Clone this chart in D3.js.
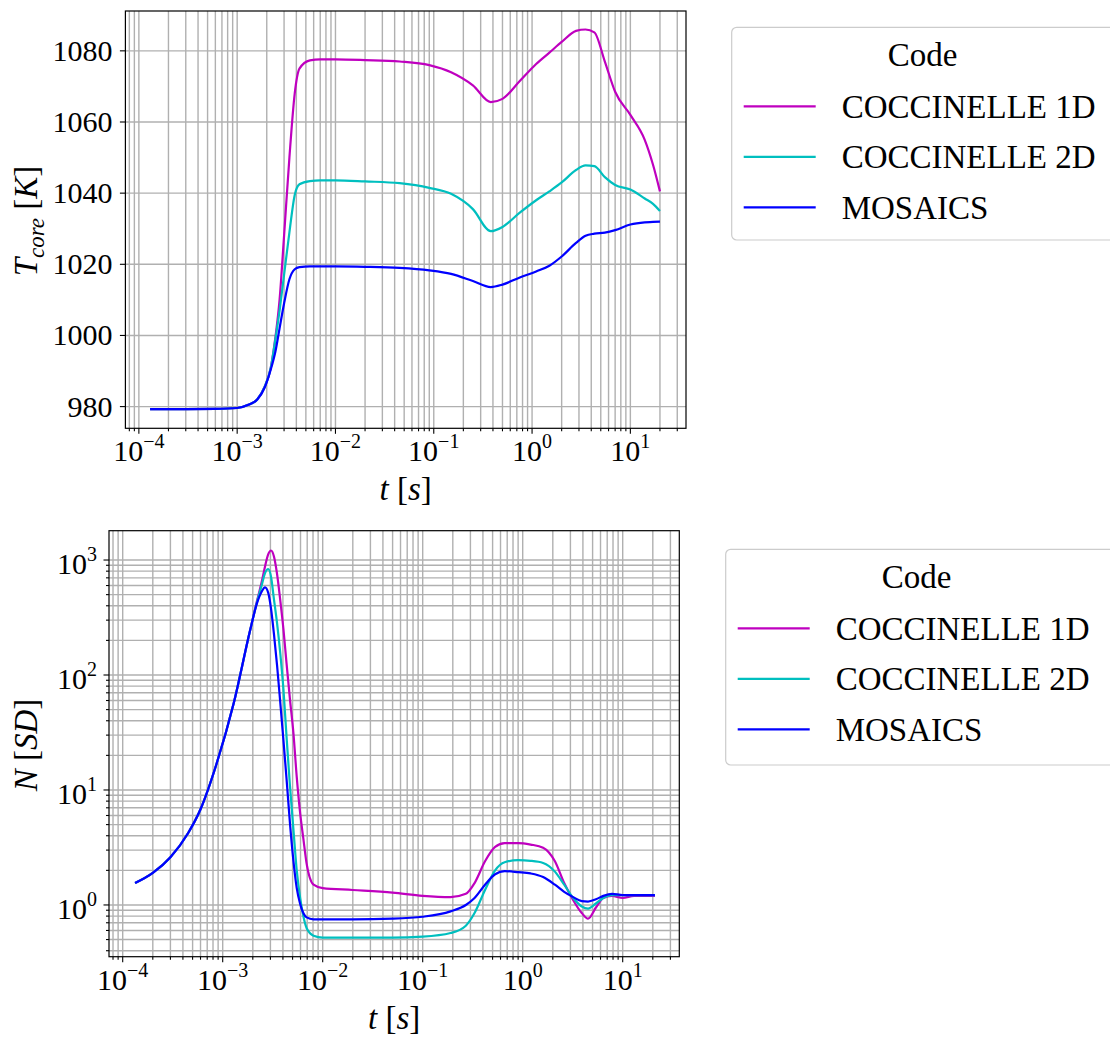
<!DOCTYPE html>
<html><head><meta charset="utf-8">
<script src="https://cdn.jsdelivr.net/npm/d3@7"></script>
<style>body{margin:0;background:#fff} svg{display:block}</style>
</head><body>
<script>
// ---------- data ----------
const seriesNames = ["COCCINELLE 1D", "COCCINELLE 2D", "MOSAICS"];
const seriesColors = ["#bf00bf", "#00bfbf", "#0000ff"];

// Top panel: core temperature [K] vs time [s]
const tempTime = [1.3e-4, 3e-4, 6e-4, 1e-3, 1.3e-3, 1.6e-3, 1.9e-3, 2.2e-3, 2.45e-3, 2.7e-3, 3.0e-3, 3.4e-3, 3.85e-3, 4.3e-3, 5.5e-3, 7e-3, 0.01, 0.02, 0.045, 0.09, 0.15, 0.25, 0.38, 0.5, 0.75, 1.1, 1.5, 2.0, 2.8, 3.5, 4.3, 5.5, 7, 10, 14, 17, 20];
const tempC1D = [979.3, 979.3, 979.35, 979.6, 980.5, 982, 985.5, 991, 999.5, 1010, 1028, 1050, 1068, 1075, 1077.3, 1077.6, 1077.6, 1077.4, 1077, 1076, 1074, 1070.3, 1065.6, 1066.5, 1071.5, 1076.3, 1079.5, 1082.5, 1085.6, 1086, 1085.2, 1077, 1068.5, 1062, 1055, 1048, 1040.5];
const tempC2D = [979.3, 979.3, 979.35, 979.6, 980.5, 982, 985.5, 991, 999, 1007, 1017, 1029, 1039.5, 1042.5, 1043.4, 1043.6, 1043.6, 1043.3, 1042.8, 1041.5, 1039.8, 1035.5, 1029.3, 1030.5, 1034.5, 1038, 1040.5, 1043, 1046.5, 1047.8, 1047.6, 1044.5, 1042.3, 1041, 1038.5, 1037, 1035];
const tempMOS = [979.3, 979.3, 979.35, 979.6, 980.5, 982, 985.3, 990.5, 995.5, 1002, 1009, 1015.8, 1018.6, 1019.2, 1019.4, 1019.4, 1019.4, 1019.3, 1019, 1018.3, 1017.3, 1015.3, 1013.6, 1014.3, 1016.3, 1018, 1019.6, 1022.2, 1026, 1028, 1028.6, 1028.9, 1029.6, 1031.2, 1031.8, 1031.9, 1032];

// Bottom panel: N [SD] vs time [s]
const nTime = [1.33e-4, 2e-4, 3e-4, 4.5e-4, 6e-4, 8.7e-4, 1.29e-3, 1.87e-3, 2.2e-3, 2.45e-3, 2.65e-3, 2.85e-3, 3.04e-3, 3.25e-3, 3.5e-3, 3.75e-3, 4.05e-3, 4.35e-3, 4.7e-3, 5.1e-3, 5.5e-3, 5.95e-3, 6.4e-3, 6.9e-3, 8.1e-3, 0.01, 0.02, 0.05, 0.1, 0.19, 0.27, 0.33, 0.42, 0.53, 0.66, 0.9, 1.2, 1.6, 2.1, 2.6, 3.2, 3.9, 4.5, 5.4, 6.4, 7.8, 10, 13, 21];
const nC1D = [1.55, 1.9, 2.6, 4.2, 6.8, 17, 57, 240, 440, 640, 880, 1120, 1210, 1080, 750, 460, 250, 126, 62, 31, 13, 6.3, 3.8, 2.3, 1.5, 1.4, 1.35, 1.28, 1.2, 1.17, 1.25, 1.55, 2.4, 3.2, 3.45, 3.45, 3.35, 3.15, 2.4, 1.55, 1.1, 0.85, 0.76, 0.95, 1.15, 1.2, 1.15, 1.2, 1.2];
const nC2D = [1.55, 1.9, 2.6, 4.2, 6.8, 17, 57, 240, 430, 600, 770, 835, 720, 460, 280, 160, 75, 29, 11, 4.5, 2.0, 1.15, 0.8, 0.63, 0.54, 0.52, 0.52, 0.52, 0.53, 0.57, 0.66, 0.85, 1.35, 2.0, 2.35, 2.45, 2.42, 2.32, 1.95, 1.5, 1.15, 0.97, 0.93, 1.03, 1.15, 1.22, 1.22, 1.22, 1.22];
const nMOS = [1.55, 1.9, 2.6, 4.2, 6.8, 17, 57, 240, 420, 530, 578, 520, 380, 230, 120, 60, 27, 12.5, 5.2, 2.4, 1.4, 1.02, 0.85, 0.78, 0.75, 0.75, 0.75, 0.76, 0.79, 0.88, 1.0, 1.15, 1.5, 1.85, 1.97, 1.93, 1.88, 1.75, 1.5, 1.3, 1.17, 1.08, 1.07, 1.12, 1.2, 1.25, 1.22, 1.22, 1.22];

const xTickValues = [1e-4, 1e-3, 1e-2, 1e-1, 1, 10];
const xTickExps = ["−4", "−3", "−2", "−1", "0", "1"];
const tempTicks = [980, 1000, 1020, 1040, 1060, 1080];
const nTickValues = [1, 10, 100, 1000];
const nTickExps = ["0", "1", "2", "3"];
const legendTitle = "Code";

// ---------- drawing ----------
const W = 1110, H = 1039;
const svg = d3.select("body").append("svg").attr("width", W).attr("height", H)
  .style("font-family", "'Liberation Serif', 'Times New Roman', serif");

const GRID = "#b0b0b0";
const xDomain = [Math.pow(10, -4.137), Math.pow(10, 1.566)];

function minorLog(domain) {
  const out = [];
  for (let k = -6; k <= 4; k++) for (let m = 2; m <= 9; m++) {
    const v = m * Math.pow(10, k);
    if (v >= domain[0] && v <= domain[1]) out.push(v);
  }
  return out;
}

function panel(cfg) {
  const {left, right, top, bottom} = cfg;
  const g = svg.append("g");
  const x = d3.scaleLog().domain(xDomain).range([left, right]);
  const y = cfg.y;
  const xMinor = minorLog(xDomain);

  // grid
  const grid = g.append("g").attr("stroke", GRID).attr("stroke-width", 1.4);
  grid.selectAll(".xg").data(xMinor.concat(xTickValues)).join("line")
    .attr("x1", d => x(d)).attr("x2", d => x(d)).attr("y1", top).attr("y2", bottom);
  const yGrid = cfg.yMinor ? cfg.yMinor.concat(cfg.yTicks) : cfg.yTicks;
  grid.selectAll(".yg").data(yGrid).join("line")
    .attr("x1", left).attr("x2", right).attr("y1", d => y(d)).attr("y2", d => y(d));

  // lines
  const line = d3.line().x(d => x(d[0])).y(d => y(d[1])).curve(d3.curveMonotoneX);
  cfg.series.forEach((vals, i) => {
    g.append("path").datum(cfg.time.map((t, j) => [t, vals[j]]))
      .attr("d", line).attr("fill", "none").attr("stroke", seriesColors[i])
      .attr("stroke-width", 2.2).attr("stroke-linejoin", "round");
  });

  // frame
  g.append("rect").attr("x", left).attr("y", top).attr("width", right - left).attr("height", bottom - top)
    .attr("fill", "none").attr("stroke", "#000").attr("stroke-width", 1.2);

  // x ticks
  const tk = g.append("g").attr("stroke", "#000").attr("stroke-width", 1.1);
  tk.selectAll(".xM").data(xTickValues).join("line")
    .attr("x1", d => x(d)).attr("x2", d => x(d)).attr("y1", bottom).attr("y2", bottom + 5.5);
  tk.selectAll(".xm").data(xMinor).join("line")
    .attr("x1", d => x(d)).attr("x2", d => x(d)).attr("y1", bottom).attr("y2", bottom + 3);
  tk.selectAll(".yM").data(cfg.yTicks).join("line")
    .attr("x1", left - 5.5).attr("x2", left).attr("y1", d => y(d)).attr("y2", d => y(d));
  if (cfg.yMinor) tk.selectAll(".ym").data(cfg.yMinor).join("line")
    .attr("x1", left - 3).attr("x2", left).attr("y1", d => y(d)).attr("y2", d => y(d));

  // x tick labels
  xTickValues.forEach((v, i) => {
    const t = g.append("text").attr("x", x(v)).attr("y", bottom + 33)
      .attr("text-anchor", "middle").attr("font-size", 30).attr("fill", "#000");
    t.append("tspan").text("10");
    t.append("tspan").attr("dy", -13).attr("font-size", 20).text(xTickExps[i]);
  });

  // y tick labels
  cfg.yTicks.forEach((v, i) => {
    if (cfg.yExps) {
      const t = g.append("text").attr("x", left - 12).attr("y", y(v) + 14)
        .attr("text-anchor", "end").attr("font-size", 30).attr("fill", "#000");
      t.append("tspan").text("10");
      t.append("tspan").attr("dy", -13).attr("font-size", 20).text(cfg.yExps[i]);
    } else {
      g.append("text").attr("x", left - 13).attr("y", y(v) + 10)
        .attr("text-anchor", "end").attr("font-size", 30).attr("fill", "#000").text(v);
    }
  });

  // x label
  const xl = g.append("text").attr("x", (left + right) / 2).attr("y", bottom + 72)
    .attr("text-anchor", "middle").attr("font-size", 33).attr("fill", "#000");
  xl.append("tspan").attr("font-style", "italic").text("t");
  xl.append("tspan").text(" [");
  xl.append("tspan").attr("font-style", "italic").text("s");
  xl.append("tspan").text("]");

  // y label
  const yl = g.append("text").attr("transform", `translate(${cfg.yLabelX},${cfg.yLabelY}) rotate(-90)`)
    .attr("text-anchor", "middle").attr("font-size", 33).attr("fill", "#000");
  cfg.yLabel(yl);

  // legend
  const L = cfg.legend;
  const lg = g.append("g");
  lg.append("rect").attr("x", L.x).attr("y", L.y).attr("width", 420).attr("height", L.h)
    .attr("rx", 5).attr("fill", "#fff").attr("fill-opacity", 0.8).attr("stroke", "#cccccc").attr("stroke-width", 1.2);
  lg.append("text").attr("x", L.x + 191).attr("y", L.y + 39).attr("text-anchor", "middle")
    .attr("font-size", 33).attr("fill", "#000").text(legendTitle);
  seriesNames.forEach((name, i) => {
    const ly = L.y + 79 + i * 50.5;
    lg.append("line").attr("x1", L.x + 12).attr("x2", L.x + 84).attr("y1", ly).attr("y2", ly)
      .attr("stroke", seriesColors[i]).attr("stroke-width", 2.2);
    lg.append("text").attr("x", L.x + 110).attr("y", ly + 11.5).attr("font-size", 33)
      .attr("fill", "#000").text(name);
  });
}

// Top panel
panel({
  left: 125.4, right: 686, top: 11, bottom: 428.3,
  y: d3.scaleLinear().domain([973.9, 1091.2]).range([428.3, 11]),
  yTicks: tempTicks, yMinor: null, yExps: null,
  time: tempTime, series: [tempC1D, tempC2D, tempMOS],
  yLabelX: 37, yLabelY: 221,
  yLabel: t => {
    t.append("tspan").attr("font-style", "italic").text("T");
    t.append("tspan").attr("font-style", "italic").attr("font-size", 23).attr("dy", 7).text("core");
    t.append("tspan").attr("dy", -7).text(" [");
    t.append("tspan").attr("font-style", "italic").text("K");
    t.append("tspan").text("]");
  },
  legend: {x: 731.7, y: 27.3, h: 212.7}
});

// Bottom panel
const nDomain = [Math.pow(10, -0.45), Math.pow(10, 3.255)];
panel({
  left: 109, right: 679.3, top: 530.7, bottom: 956.7,
  y: d3.scaleLog().domain(nDomain).range([956.7, 530.7]),
  yTicks: nTickValues, yMinor: minorLog(nDomain), yExps: nTickExps,
  time: nTime, series: [nC1D, nC2D, nMOS],
  yLabelX: 37, yLabelY: 745,
  yLabel: t => {
    t.append("tspan").attr("font-style", "italic").text("N");
    t.append("tspan").text(" [");
    t.append("tspan").attr("font-style", "italic").text("SD");
    t.append("tspan").text("]");
  },
  legend: {x: 725.7, y: 549.3, h: 215.7}
});
</script>
</body></html>
